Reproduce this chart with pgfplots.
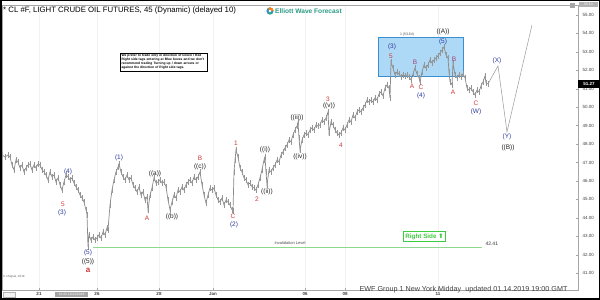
\documentclass[border=0pt]{standalone}
\usepackage{fontspec}
\setmainfont{Liberation Sans}
\newfontfamily\dejavu{DejaVu Sans}
\usepackage{pgfplots}
\usepackage{pgfplotstable}
\pgfplotsset{compat=1.18}
\definecolor{wblue}{HTML}{2E3B9B}
\definecolor{wred}{HTML}{D03A3A}
\definecolor{wpurp}{HTML}{A0407A}
\definecolor{wblack}{HTML}{222222}
\definecolor{pricegray}{HTML}{8A8A8A}
\definecolor{boxblue}{HTML}{9FD3F5}
\definecolor{boxedge}{HTML}{3A8FD0}
\definecolor{rgreen}{HTML}{3DCC3D}
\definecolor{lgreen}{HTML}{8ED88E}
\definecolor{teal}{HTML}{2B9A86}
\newcommand{\lab}{\fontsize{6.5}{7}\selectfont}
\pgfplotstableread{
x y
2 47.41
5 47.30
8 47.41
10 47.30
12 46.87
14 46.60
16 47.14
18 47.03
20 46.71
22 46.87
24 46.49
26 46.71
28 46.87
30 46.92
32 46.60
34 46.87
36 46.71
38 46.92
40 46.87
42 46.60
44 46.49
46 46.33
48 46.06
50 46.49
52 46.22
54 46.33
56 45.95
58 46.17
60 45.79
62 45.51
64 45.95
66 46.33
68 46.22
70 46.06
72 46.17
74 45.89
76 45.68
78 45.51
80 45.24
82 45.08
84 44.86
86 44.43
87 44.16
88 42.43
89 43.08
91 42.80
93 42.97
95 42.80
97 42.91
99 43.08
101 42.91
103 43.24
105 43.08
107 43.46
108 43.35
110 44.70
112 45.51
114 46.06
116 46.49
118 46.76
119 46.92
121 46.49
123 46.22
125 46.06
127 46.33
129 46.06
131 46.17
133 45.79
135 45.62
137 45.41
139 45.68
141 45.24
143 45.41
145 44.97
147 45.14
148 44.43
150 45.24
152 45.62
154 46.17
156 45.89
158 45.95
160 46.06
162 45.89
164 45.95
166 45.68
168 44.97
170 44.43
172 44.86
174 45.24
176 45.08
178 45.51
180 45.41
182 45.68
184 45.51
186 45.79
188 45.95
190 46.06
192 45.89
194 46.22
196 46.06
198 46.22
200 46.49
202 45.79
204 45.24
206 44.81
208 45.24
210 45.62
212 45.51
214 45.62
216 45.24
218 44.97
220 44.86
222 45.08
224 44.70
226 44.97
228 44.86
230 44.70
232 44.43
233 44.38
234 46.49
235 47.14
236 47.68
238 47.30
240 46.71
242 46.49
244 46.17
246 46.06
248 45.79
250 45.89
252 45.68
254 45.62
256 45.51
258 45.79
260 46.17
262 46.60
264 47.14
265 47.30
266 46.49
267 45.79
269 46.60
271 46.49
273 46.71
275 46.87
277 47.14
279 47.03
281 47.41
283 47.57
285 47.79
287 47.95
289 48.22
291 48.12
293 48.50
295 48.77
297 48.98
298 49.20
299 48.33
300 47.68
302 48.22
304 48.50
306 48.60
308 48.50
310 48.77
312 48.88
314 48.77
316 49.04
318 48.98
320 49.04
322 49.31
324 49.20
326 49.42
328 49.74
329 48.60
331 49.20
333 49.04
335 48.77
337 48.60
339 48.50
341 48.60
343 48.88
345 48.77
347 49.04
349 49.31
351 49.20
353 49.58
355 49.42
357 49.74
359 49.85
361 49.74
363 49.96
365 50.12
367 50.39
369 50.28
371 50.39
373 50.28
375 50.50
377 50.39
379 50.72
381 50.83
383 50.61
385 51.04
387 51.21
389 51.04
390 50.50
391 52.45
393 52.13
395 51.75
397 51.91
399 51.80
401 51.64
403 51.75
405 51.69
407 51.75
409 51.64
411 51.48
413 51.80
415 52.13
417 51.80
419 51.59
420 51.37
422 51.91
424 52.29
426 52.13
428 52.29
430 52.56
432 52.40
434 52.56
436 52.67
438 52.78
440 52.94
442 53.10
444 53.27
446 52.83
448 52.67
449 51.91
450 51.37
452 51.21
453 52.40
455 51.75
457 51.59
459 51.75
461 51.64
463 51.80
465 51.59
467 51.04
469 50.93
471 51.04
473 50.83
475 50.66
477 50.93
479 50.83
481 51.15
483 51.37
485 51.69
486 51.31
488 51.26
}\price
\pgfplotstableread{
x y
488 51.26
498 52.24
507 48.66
532 54.46
}\forecast
\begin{document}
\begin{tikzpicture}[x=1pt,y=1pt]
\useasboundingbox (0,0) rectangle (600,300);
\fill[white] (0,0) rectangle (600,300);
\begin{axis}[
  at={(2pt,10pt)}, anchor=south west,
  scale only axis, width=576pt, height=285pt,
  xmin=2, xmax=578, ymin=40.09, ymax=55.54,
  clip=false,
  axis line style={gray!70, line width=0.5pt},
  ytick={41,42,...,55},
  yticklabel pos=right,
  yticklabel style={font=\fontsize{4.5}{5}\selectfont, text=black!75, xshift=1pt,
    /pgf/number format/.cd, fixed, fixed zerofill, precision=2, assume math mode=true},
  xtick={39,97,159,213,305,345,438},
  xticklabels={21,26,28,Jan,06,08,11},
  xticklabel style={font=\fontsize{4.5}{5}\selectfont\bfseries, text=black!75, yshift=1pt},
  tick style={gray!70, line width=0.4pt},
  major tick length=2pt,
  tick pos=right,
  xtick pos=bottom,
  xmajorgrids, grid style={gray!10, line width=0.3pt},
]
% blue box
\fill[boxblue, opacity=0.85] (axis cs:378,51.69) rectangle (axis cs:463,53.81);
\draw[boxedge, line width=0.4pt] (axis cs:378,51.69) rectangle (axis cs:463,53.81);
% invalidation level
\addplot[lgreen, line width=0.6pt] coordinates {(93,42.41) (482,42.41)};
% price
\addplot[pricegray, line width=0.7pt, error bars/.cd, y dir=both, y fixed=0.16,
  error bar style={pricegray!90, line width=0.5pt}, error mark=none] table {\price};
% forecast path
\addplot[gray!80, line width=0.5pt] table {\forecast};
% labels blue
\node[wblue, font=\lab] at (axis cs:68,46.49) {(4)};
\node[wblue, font=\lab] at (axis cs:62,44.27) {(3)};
\node[wblue, font=\lab] at (axis cs:88,42.10) {(5)};
\node[wblue, font=\lab] at (axis cs:119,47.25) {(1)};
\node[wblue, font=\lab] at (axis cs:234,43.62) {(2)};
\node[wblue, font=\lab] at (axis cs:392,53.27) {(3)};
\node[wblue, font=\lab] at (axis cs:421,50.61) {(4)};
\node[wblue, font=\lab] at (axis cs:443,53.54) {(5)};
\node[wblue, font=\lab] at (axis cs:476,49.74) {(W)};
\node[wblue, font=\lab] at (axis cs:497,52.51) {(X)};
\node[wblue, font=\lab] at (axis cs:507,48.39) {(Y)};
% labels red
\node[wred, font=\lab] at (axis cs:63,44.76) {5};
\node[wred, font=\fontsize{8}{9}\selectfont\bfseries] at (axis cs:88,41.18) {a};
\node[wred, font=\lab] at (axis cs:147,44.00) {A};
\node[wred, font=\lab] at (axis cs:200,47.25) {B};
\node[wred, font=\lab] at (axis cs:233,44.11) {C};
\node[wred, font=\lab] at (axis cs:236,48.06) {1};
\node[wred, font=\lab] at (axis cs:257,45.03) {2};
\node[wred, font=\lab] at (axis cs:328,50.45) {3};
\node[wred, font=\lab] at (axis cs:341,47.95) {4};
\node[wred, font=\lab] at (axis cs:391,52.78) {5};
\node[wred, font=\lab] at (axis cs:412,51.15) {A};
\node[wpurp, font=\lab] at (axis cs:415,52.45) {B};
\node[wred, font=\lab] at (axis cs:421,51.10) {C};
\node[wpurp, font=\lab] at (axis cs:454,52.62) {B};
\node[wred, font=\lab] at (axis cs:453,50.83) {A};
\node[wred, font=\lab] at (axis cs:476,50.23) {C};
% labels black
\node[wblack, font=\lab] at (axis cs:88,41.61) {((5))};
\node[wblack, font=\lab] at (axis cs:155,46.38) {((a))};
\node[wblack, font=\lab] at (axis cs:172,44.05) {((b))};
\node[wblack, font=\lab] at (axis cs:200,46.76) {((c))};
\node[wblack, font=\lab] at (axis cs:265,47.68) {((i))};
\node[wblack, font=\lab] at (axis cs:267,45.41) {((ii))};
\node[wblack, font=\lab] at (axis cs:297,49.42) {((iii))};
\node[wblack, font=\lab] at (axis cs:300,47.30) {((iv))};
\node[wblack, font=\lab] at (axis cs:329,50.07) {((v))};
\node[wblack, font=\lab] at (axis cs:443,54.08) {((A))};
\node[wblack, font=\lab] at (axis cs:508,47.79) {((B))};
\node[black!70, font=\fontsize{3.5}{4}\selectfont] at (axis cs:407,53.92) {1 (53.64)};
\node[black!70, font=\fontsize{4}{4.5}\selectfont] at (axis cs:290,42.64) {Invalidation Level};
\node[black!80, font=\fontsize{5}{5.5}\selectfont, anchor=west] at (axis cs:482,42.57) {42.41};
\end{axis}
% title
\node[anchor=west, font=\fontsize{7.8}{8}\selectfont, inner sep=0pt] at (3,290) {* CL \#F, LIGHT CRUDE OIL FUTURES, 45 (Dynamic) (delayed 10)};
% logo
\fill[boxedge] (270,289) circle (3.6);
\fill[orange] (270,289) -- (273.6,289) arc (0:120:3.6) -- cycle;
\fill[teal!80!green] (270,289) -- (268.2,285.9) arc (240:300:3.6) -- cycle;
\fill[white] (270,289) circle (1.4);
\node[anchor=west, font=\fontsize{6.6}{7}\selectfont\bfseries, text=teal, inner sep=0pt] at (275,289) {Elliott Wave Forecast};
% note box
\node[draw=black, line width=0.5pt, fill=white, text width=84pt, align=left,
  font=\fontsize{3.3}{3.9}\selectfont\bfseries, inner sep=1.5pt] at (163.5,238)
  {We prefer to trade only in direction of Green / Red Right side tags entering at Blue boxes and we don't recommend trading Turning up / down arrows or against the direction of Right side tags.};
% right side box
\node[draw=rgreen, line width=0.8pt, fill=white, text=rgreen, font=\fontsize{6.3}{7}\selectfont\bfseries, inner sep=1.6pt] at (424.5,63.5) {Right Side {\dejavu ⬆}};
% price tag
\fill[black] (578,212) rectangle (600,220);
\node[text=white, font=\fontsize{4.5}{5}\selectfont\bfseries, inner sep=0pt] at (589,216) {51.27};
% top right marks
\fill[gray!60] (579,293) rectangle (598,298);
\node[text=white, font=\fontsize{3.5}{4}\selectfont, inner sep=0pt] at (588.5,295.5) {55.54};
\fill[gray!70] (570,292) rectangle (575,297);
% bottom left
\node[anchor=west, font=\fontsize{3}{3.5}\selectfont, text=black!60, inner sep=0pt] at (3,23) {\copyright\ eSignal, 2019};
\draw[gray!60, fill=gray!10] (3,2.5) rectangle (15,8);
\fill[gray!70] (55,2.5) rectangle (88,8);
\node[text=white, font=\fontsize{3.3}{3.8}\selectfont, inner sep=0pt] at (71.5,5.2) {12:45 12/24/2018};
% bottom text
\node[font=\fontsize{7.2}{8}\selectfont, text=black!75, inner sep=0pt] at (463.5,10) {EWF Group 1 New York Midday\ \ updated 01.14.2019 19:00 GMT};
% frame
\draw[black, line width=3pt] (0,0) rectangle (600,300);
\end{tikzpicture}
\end{document}
